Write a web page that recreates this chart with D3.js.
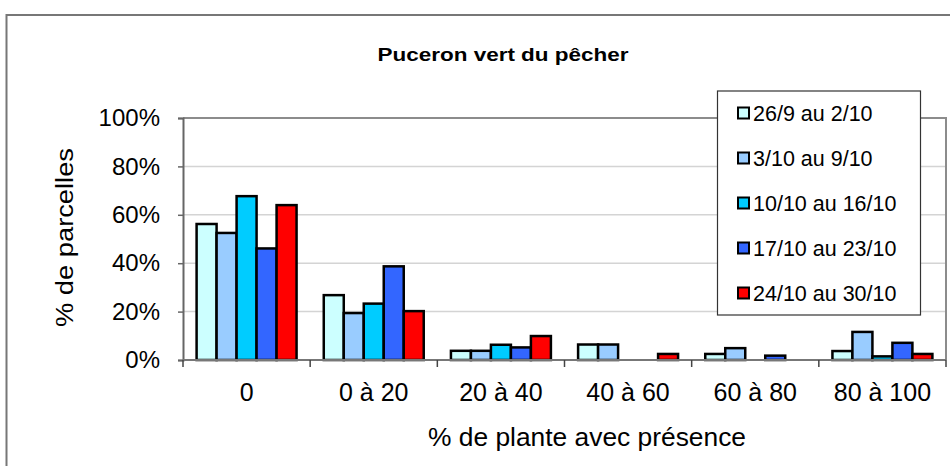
<!DOCTYPE html>
<html>
<head>
<meta charset="utf-8">
<script src="https://cdn.jsdelivr.net/npm/d3@7"></script>
<style>
  body { margin: 0; background: #fff; }
  svg { display: block; font-family: "Liberation Sans", Arial, sans-serif; }
</style>
</head>
<body>
<div id="vis"></div>
<script>
// data (percent of plots)
const categories = ["0", "0 à 20", "20 à 40", "40 à 60", "60 à 80", "80 à 100"];
const seriesNames = ["26/9 au 2/10", "3/10 au 9/10", "10/10 au 16/10", "17/10 au 23/10", "24/10 au 30/10"];
const seriesColors = ["#ccffff", "#99ccff", "#00ccff", "#3366ff", "#ff0000"];
const week1 = [56.2, 26.8, 3.8, 6.4, 2.5, 3.7];
const week2 = [52.5, 19.4, 3.8, 6.4, 4.9, 11.6];
const week3 = [67.7, 23.3, 6.3, 0, 0, 1.5];
const week4 = [46.1, 38.7, 5.2, 0, 1.8, 7.1];
const week5 = [64.0, 20.2, 9.9, 2.5, 0, 2.5];
const yTicks = [0, 20, 40, 60, 80, 100];

const allSeries = [week1, week2, week3, week4, week5];

const W = 950, H = 466;
const plot = { left: 183, right: 946, top: 118, bottom: 360 };

const svg = d3.select('#vis')
  .append('svg')
  .attr('width', W)
  .attr('height', H);

// outer chart frame (runs off the picture at right and bottom)
svg.append('rect')
  .attr('x', 6.5).attr('y', 15)
  .attr('width', 980).attr('height', 500)
  .attr('fill', '#fff')
  .attr('stroke', '#777')
  .attr('stroke-width', 2);

const x = d3.scaleBand()
  .domain(categories)
  .range([plot.left, plot.right]);

const xInner = d3.scaleBand()
  .domain(seriesNames)
  .range([0, x.bandwidth()])
  .paddingOuter(0.68);

const y = d3.scaleLinear()
  .domain([0, 100])
  .range([plot.bottom, plot.top]);

// gridlines
svg.append('g')
  .selectAll('line')
  .data(yTicks.filter(d => d > 0 && d < 100))
  .join('line')
  .attr('x1', plot.left).attr('x2', plot.right)
  .attr('y1', d => y(d)).attr('y2', d => y(d))
  .attr('stroke', '#d4d4d4')
  .attr('stroke-width', 1.5);

// plot area border (top + right)
svg.append('path')
  .attr('d', `M${plot.left},${plot.top}H${plot.right}V${plot.bottom}`)
  .attr('fill', 'none')
  .attr('stroke', '#8c8c8c')
  .attr('stroke-width', 2);

// bars
const groups = svg.append('g')
  .selectAll('g')
  .data(allSeries.map((vals, i) => ({ name: seriesNames[i], color: seriesColors[i], vals })))
  .join('g')
  .attr('fill', d => d.color);

groups.selectAll('rect')
  .data(d => d.vals.map((v, j) => ({ name: d.name, cat: categories[j], v })))
  .join('rect')
  .attr('x', d => x(d.cat) + xInner(d.name))
  .attr('width', xInner.bandwidth())
  .attr('y', d => y(d.v))
  .attr('height', d => y(0) - y(d.v))
  .attr('stroke', '#000')
  .attr('stroke-width', 2.5);

// y axis
const yAxis = svg.append('g')
  .attr('transform', `translate(${plot.left},0)`)
  .call(d3.axisLeft(y).tickValues(yTicks).tickSize(5).tickPadding(18).tickFormat(d => d + '%'));
yAxis.select('.domain').attr('stroke', '#666').attr('stroke-width', 2);
yAxis.selectAll('.tick line').attr('stroke', '#666').attr('stroke-width', 1.5);
yAxis.selectAll('.tick text')
  .attr('font-size', 24)
  .attr('fill', '#000')
  .attr('font-family', '"Liberation Sans", Arial, sans-serif');

// x axis
const xTickPos = categories.map(c => x(c)).concat([plot.right]);
const xAxisG = svg.append('g');
xAxisG.append('line')
  .attr('x1', plot.left).attr('x2', plot.right)
  .attr('y1', plot.bottom).attr('y2', plot.bottom)
  .attr('stroke', '#777')
  .attr('stroke-width', 2);
xAxisG.selectAll('.xtick')
  .data(xTickPos)
  .join('line')
  .attr('class', 'xtick')
  .attr('x1', d => d).attr('x2', d => d)
  .attr('y1', plot.bottom).attr('y2', plot.bottom + 7)
  .attr('stroke', '#444')
  .attr('stroke-width', 1.5);
xAxisG.selectAll('.xlabel')
  .data(categories)
  .join('text')
  .attr('class', 'xlabel')
  .attr('x', d => x(d) + x.bandwidth() / 2)
  .attr('y', 401)
  .attr('text-anchor', 'middle')
  .attr('font-size', 25)
  .text(d => d);

// titles
svg.append('text')
  .attr('x', 503)
  .attr('y', 61)
  .attr('text-anchor', 'middle')
  .attr('font-size', 19)
  .attr('font-weight', 'bold')
  .attr('textLength', 251)
  .attr('lengthAdjust', 'spacingAndGlyphs')
  .text('Puceron vert du pêcher');

svg.append('text')
  .attr('x', 587)
  .attr('y', 446)
  .attr('text-anchor', 'middle')
  .attr('font-size', 25)
  .attr('textLength', 318)
  .attr('lengthAdjust', 'spacingAndGlyphs')
  .text('% de plante avec présence');

svg.append('text')
  .attr('transform', 'translate(73,237.5) rotate(-90)')
  .attr('text-anchor', 'middle')
  .attr('font-size', 23)
  .attr('textLength', 179)
  .attr('lengthAdjust', 'spacingAndGlyphs')
  .text('% de parcelles');

// legend
const legend = svg.append('g');
legend.append('rect')
  .attr('x', 717.5).attr('y', 91)
  .attr('width', 203).attr('height', 224)
  .attr('fill', '#fff')
  .attr('stroke', '#333')
  .attr('stroke-width', 1.2);

const legendY = d3.scalePoint()
  .domain(seriesNames)
  .range([113, 293]);

const items = legend.selectAll('g.item')
  .data(seriesNames)
  .join('g')
  .attr('class', 'item')
  .attr('transform', d => `translate(0,${legendY(d)})`);

items.append('rect')
  .attr('x', 738).attr('y', -5.5)
  .attr('width', 11).attr('height', 11)
  .attr('fill', (d, i) => seriesColors[i])
  .attr('stroke', '#000')
  .attr('stroke-width', 2);

items.append('text')
  .attr('x', 753)
  .attr('y', 7.5)
  .attr('font-size', 21.5)
  .text(d => d);
</script>
</body>
</html>
